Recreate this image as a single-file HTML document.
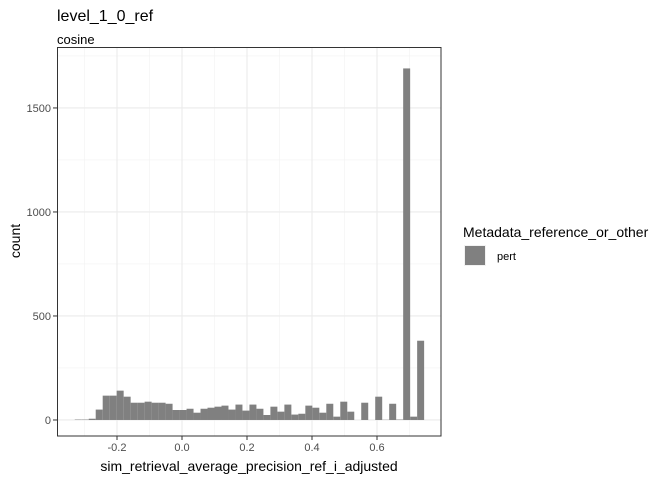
<!DOCTYPE html>
<html><head><meta charset="utf-8"><style>
body{margin:0;background:#fff;font-family:"Liberation Sans",sans-serif;}
</style></head><body>
<svg width="672" height="480" xmlns="http://www.w3.org/2000/svg" font-family="Liberation Sans, sans-serif">
<text x="57" y="21" font-size="16" fill="#000">level_1_0_ref</text>
<text x="57" y="44" font-size="13" fill="#000">cosine</text>
<rect x="57" y="47" width="384" height="389" fill="#fff" stroke="none"/>
<g id="grid"></g>
<g id="bars"></g>
<rect x="57.5" y="47.5" width="383.5" height="388.5" fill="none" stroke="#333" stroke-width="1"/>
<g id="axes"></g>
<text x="249" y="471" font-size="14" text-anchor="middle" fill="#000">sim_retrieval_average_precision_ref_i_adjusted</text>
<text transform="translate(20,241) rotate(-90)" font-size="14" text-anchor="middle" fill="#000">count</text>
<text x="463" y="237" font-size="14" fill="#000">Metadata_reference_or_other</text>
<rect x="464" y="245" width="22" height="21" fill="#f2f2f2"/>
<rect x="465" y="246" width="20" height="19" fill="#808080"/>
<text x="497" y="260" font-size="11" fill="#000">pert</text>
</svg>
<script>
const counts=[2,2,6,50,117,117,141,112,83,83,88,83,83,78,48,48,54,35,54,59,64,69,50,74,45,74,54,24,64,40,74,26,30,69,59,35,78,16,88,40,0,83,0,112,1,78,2,1690,16,381];
const binStart=-0.33;
const binWidth=0.0215;
const xTicks=[-0.2,0.0,0.2,0.4,0.6];
const xTickLabels=["-0.2","0.0","0.2","0.4","0.6"];
const yTicks=[0,500,1000,1500];
const yTickLabels=["0","500","1000","1500"];
const NS="http://www.w3.org/2000/svg";
const px0=57,px1=441,py0=47,py1=436;
const xmin=-0.3846,xmax=0.7969,ymin=-77,ymax=1793;
function sx(v){return px0+(v-xmin)/(xmax-xmin)*(px1-px0);}
function sy(v){return py1-(v-ymin)/(ymax-ymin)*(py1-py0);}
function mk(t,a,p){const e=document.createElementNS(NS,t);for(const k in a)e.setAttribute(k,a[k]);p.appendChild(e);return e;}
const grid=document.getElementById('grid'),bars=document.getElementById('bars'),axes=document.getElementById('axes');
xTicks.forEach((v,i)=>{
  if(i<xTicks.length-1){const m=(v+xTicks[i+1])/2;const l=mk('line',{x1:sx(m),x2:sx(m),y1:py0,y2:py1,stroke:'#f2f2f2','stroke-width':0.6},grid);
  
  }
});
[-0.3,0.7].forEach(m=>{const l=mk('line',{x1:sx(m),x2:sx(m),y1:py0,y2:py1,stroke:'#f2f2f2','stroke-width':0.6},grid);
  
  });
[250,750,1250,1750].forEach(m=>{const l=mk('line',{x1:px0,x2:px1,y1:sy(m),y2:sy(m),stroke:'#f2f2f2','stroke-width':0.6},grid);
  
  });
xTicks.forEach((v,i)=>{
  const l=mk('line',{x1:sx(v),x2:sx(v),y1:py0,y2:py1,stroke:'#ebebeb','stroke-width':1.1},grid);
  
  
  const t=mk('line',{x1:sx(v),x2:sx(v),y1:py1,y2:py1+4,stroke:'#333'},axes);
  
  
  const tx=mk('text',{x:sx(v),y:py1+15,'font-size':11,'text-anchor':'middle',fill:'#4d4d4d'},axes);
  tx.textContent=xTickLabels[i];
  
  
});
yTicks.forEach((v,i)=>{
  const l=mk('line',{x1:px0,x2:px1,y1:sy(v),y2:sy(v),stroke:'#ebebeb','stroke-width':1.1},grid);
  
  
  const t=mk('line',{x1:px0-4,x2:px0,y1:sy(v),y2:sy(v),stroke:'#333'},axes);
  
  
  const tx=mk('text',{x:px0-6,y:sy(v)+4,'font-size':11,'text-anchor':'end',fill:'#4d4d4d'},axes);
  tx.textContent=yTickLabels[i];
  
  
});
counts.forEach((c,i)=>{
  if(c<=0)return;
  const x0=sx(binStart+i*binWidth),x1=sx(binStart+(i+1)*binWidth);
  const r=mk('rect',{x:x0,y:sy(c),width:x1-x0,height:sy(0)-sy(c),fill:'#808080'},bars);
  
  
});
</script>
</body></html>
